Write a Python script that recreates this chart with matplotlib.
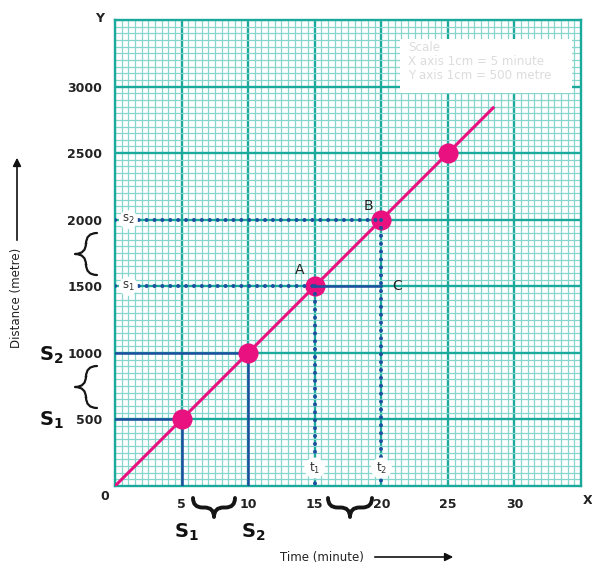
import matplotlib
matplotlib.use("Agg")
import matplotlib.pyplot as plt
from matplotlib.ticker import MultipleLocator
from matplotlib.patches import Rectangle, PathPatch
from matplotlib.path import Path

# ---- data ----
time_pts = [5, 10, 15, 20, 25]
dist_pts = [500, 1000, 1500, 2000, 2500]
line_time = [0, 28.4]
line_dist = [0, 2840]
x_ticks = [5, 10, 15, 20, 25, 30]
y_ticks = [500, 1000, 1500, 2000, 2500, 3000]
scale_lines = ["Scale", "X axis 1cm = 5 minute", "Y axis 1cm = 500 metre"]

major_c = "#1aa99a"
minor_c = "#86d6ce"
blue = "#1d4f9f"
pink = "#e8117f"

plt.rcParams['font.family'] = ['DejaVu Sans']
plt.rcParams['mathtext.fontset'] = 'dejavusans'

W, H = 592, 565
fig = plt.figure(figsize=(W / 100, H / 100), dpi=100)
ax = fig.add_axes([115 / W, 79 / H, 466 / W, 466 / H])
ax.set_xlim(0, 35)
ax.set_ylim(0, 3500)

ax.set_xticks(x_ticks)
ax.set_xticklabels([str(v) for v in x_ticks])
ax.set_yticks(y_ticks)
ax.set_yticklabels([str(v) for v in y_ticks])
ax.xaxis.set_minor_locator(MultipleLocator(0.5))
ax.yaxis.set_minor_locator(MultipleLocator(50))
ax.grid(which='minor', color=minor_c, lw=0.9, zorder=0)
ax.grid(which='major', color=major_c, lw=1.7, zorder=0)
ax.set_axisbelow(True)
ax.tick_params(which='both', length=0)
ax.tick_params(axis='x', pad=9, labelsize=9)
ax.tick_params(axis='y', pad=9, labelsize=9)
for lab in ax.get_xticklabels() + ax.get_yticklabels():
    lab.set_fontweight('bold')
    lab.set_color('#222222')
for sp in ax.spines.values():
    sp.set_color(major_c)
    sp.set_linewidth(1.7)

# scale box
ax.add_patch(Rectangle((21.4, 2955), 12.9, 405, facecolor='white',
                       edgecolor='none', zorder=2))
for i, s in enumerate(scale_lines):
    ax.text(22.0, 3290 - i * 105, s, color='#dcdcdc', fontsize=8.6,
            va='center', ha='left', zorder=3)

# solid blue guide lines
ax.plot([0, time_pts[0], time_pts[0]], [dist_pts[0], dist_pts[0], 0],
        color=blue, lw=1.8, zorder=3)
ax.plot([0, time_pts[1], time_pts[1]], [dist_pts[1], dist_pts[1], 0],
        color=blue, lw=1.8, zorder=3)
ax.plot([time_pts[2], time_pts[3]], [dist_pts[2], dist_pts[2]],
        color=blue, lw=1.8, zorder=6)

# main line and points
ax.plot(line_time, line_dist, color=pink, lw=2.2, zorder=4)
ax.plot(time_pts, dist_pts, 'o', color=pink, ms=13.5, zorder=5)

# dotted guide lines
dot = dict(color=blue, lw=2.9, ls=(0, (0.01, 1.95)), dash_capstyle='round', zorder=6)
ax.plot([0, time_pts[3]], [dist_pts[3], dist_pts[3]], **dot)
ax.plot([0, time_pts[2]], [dist_pts[2], dist_pts[2]], **dot)
ax.plot([time_pts[2], time_pts[2]], [dist_pts[2], 0], **dot)
ax.plot([time_pts[3], time_pts[3]], [dist_pts[3], 0], **dot)

box = dict(boxstyle='circle,pad=0.25', fc='white', ec='none')
for x, y, s in [(1.0, dist_pts[3], r'$\mathregular{s_2}$'),
                (1.0, dist_pts[2], r'$\mathregular{s_1}$'),
                (time_pts[2], 135, r'$\mathregular{t_1}$'),
                (time_pts[3], 135, r'$\mathregular{t_2}$')]:
    ax.text(x, y, s, fontsize=8.5, ha='center', va='center',
            bbox=box, zorder=7, color='#333333')

# point labels
ax.text(13.9, 1620, 'A', fontsize=10, ha='center', va='center', color='#222222', zorder=7)
ax.text(19.0, 2105, 'B', fontsize=10, ha='center', va='center', color='#222222', zorder=7)
ax.text(21.2, 1500, 'C', fontsize=10, ha='center', va='center', color='#222222', zorder=7)

# axis letters
ax.text(-1.15, 3510, 'Y', fontsize=9, fontweight='bold', ha='center', va='center',
        color='#222222', clip_on=False)
fig.text(1.0, 1 - 500 / H, 'X', fontsize=9, fontweight='bold', ha='right', va='center',
         color='#222222')
ax.text(-0.75, -82, '0', fontsize=9, fontweight='bold', ha='center', va='center',
        color='#222222', clip_on=False)


# braces drawn as paths in figure pixel coordinates (top-left origin)
def brace(cu, cv0, L, D, vertical, lw):
    r = D / 2.0
    local = [(-L / 2, 0), (-L / 2, D / 2), (-L / 2 + r, D / 2),
             (-r, D / 2), (0, D / 2), (0, D),
             (0, D / 2), (r, D / 2),
             (L / 2 - r, D / 2), (L / 2, D / 2), (L / 2, 0)]
    codes = [Path.MOVETO, Path.CURVE3, Path.CURVE3,
             Path.LINETO, Path.CURVE3, Path.CURVE3,
             Path.CURVE3, Path.CURVE3,
             Path.LINETO, Path.CURVE3, Path.CURVE3]
    pts = []
    for u, v in local:
        if vertical:   # u along y (down), v leftwards
            px, py = cv0 - v, cu + u
        else:          # u along x, v downwards
            px, py = cu + u, cv0 + v
        pts.append((px / W, 1 - py / H))
    fig.patches.append(PathPatch(Path(pts, codes), transform=fig.transFigure,
                                 fill=False, ec='#151515', lw=lw,
                                 capstyle='round', joinstyle='round'))


brace(254, 97, 42, 22, True, 1.6)
brace(387, 97, 42, 22, True, 1.6)
brace(214, 498, 42, 19, False, 2.8)
brace(350, 498, 44, 19, False, 2.8)

# big S labels
ax.text(-4.75, 985, r'$\mathbf{S_2}$', fontsize=14, ha='center', va='center',
        color='#111111', clip_on=False)
ax.text(-4.75, 495, r'$\mathbf{S_1}$', fontsize=14, ha='center', va='center',
        color='#111111', clip_on=False)
ax.text(5.4, -350, r'$\mathbf{S_1}$', fontsize=14, ha='center', va='center',
        color='#111111', clip_on=False)
ax.text(10.4, -350, r'$\mathbf{S_2}$', fontsize=14, ha='center', va='center',
        color='#111111', clip_on=False)

# axis titles with arrows
fig.text(17 / W, 1 - 298 / H, 'Distance (metre)', rotation=90, fontsize=8.5,
         ha='center', va='center', color='#222222')
ax.annotate('', xy=(17 / W, 1 - 155 / H), xytext=(17 / W, 1 - 243 / H),
            xycoords='figure fraction', textcoords='figure fraction',
            arrowprops=dict(arrowstyle='-|>', color='#111111', lw=1.2,
                            mutation_scale=12))
fig.text(322 / W, 1 - 557 / H, 'Time (minute)', fontsize=8.5,
         ha='center', va='center', color='#222222')
ax.annotate('', xy=(456 / W, 1 - 557 / H), xytext=(372 / W, 1 - 557 / H),
            xycoords='figure fraction', textcoords='figure fraction',
            arrowprops=dict(arrowstyle='-|>', color='#111111', lw=1.2,
                            mutation_scale=12))

fig.savefig('out.png', dpi=100)
